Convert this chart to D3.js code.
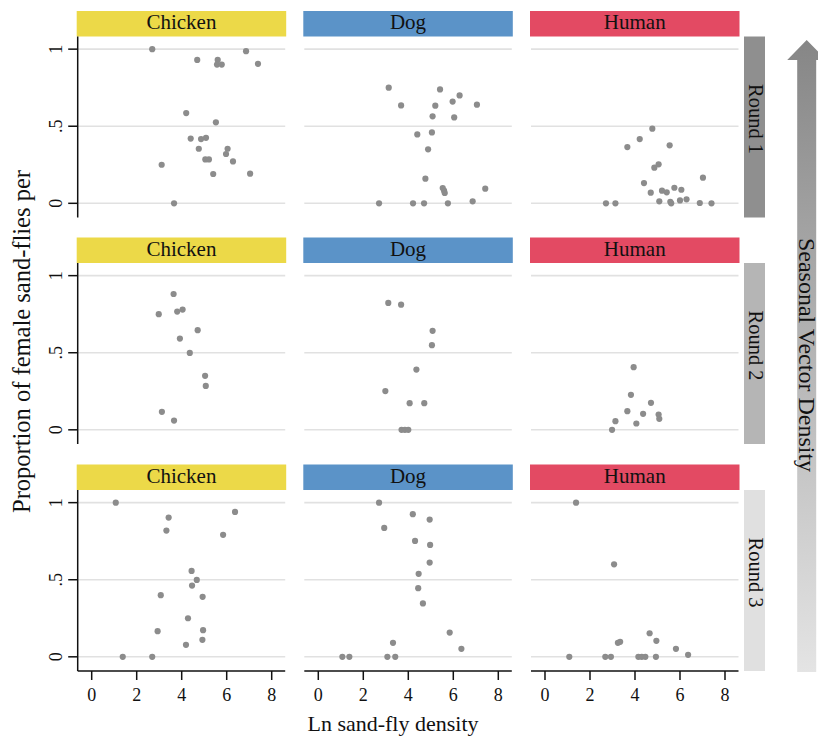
<!DOCTYPE html>
<html>
<head>
<meta charset="utf-8">
<script src="https://cdn.jsdelivr.net/npm/d3@7"></script>
<style>
  body { margin: 0; background: #fff; }
  svg { display: block; }
  text { font-family: "Liberation Serif", "Times New Roman", serif; fill: #111; }
</style>
</head>
<body>
<svg id="chart" width="818" height="740"></svg>
<script>
// Facet labels and axis ticks
const hosts = ["Chicken", "Dog", "Human"];
const rounds = ["Round 1", "Round 2", "Round 3"];
const xTicks = [0, 2, 4, 6, 8];
const yTicks = [0, 0.5, 1];
const yTickLabels = ["0", ".5", "1"];
const hostColors = ["#ecd948", "#5b93c8", "#e34a63"];
const roundColors = ["#8f8f8f", "#b5b5b5", "#e0e0e0"];

// Observations per panel: [ln sand-fly density, proportion of females]
const round1Chicken = [
  [2.69, 1.0], [4.69, 0.93], [5.6, 0.93], [5.57, 0.90], [5.78, 0.90], [6.86, 0.987], [7.39, 0.905],
  [4.2, 0.585], [5.52, 0.525], [4.4, 0.42], [4.86, 0.417], [5.08, 0.425], [4.76, 0.354], [6.04, 0.354],
  [5.97, 0.32], [5.05, 0.285], [5.21, 0.285], [6.28, 0.272], [3.11, 0.25], [5.4, 0.19], [7.04, 0.192], [3.66, 0]
];
const round1Dog = [
  [3.13, 0.75], [5.41, 0.739], [6.28, 0.70], [5.97, 0.66], [3.68, 0.635], [5.2, 0.633], [7.05, 0.64],
  [5.08, 0.564], [6.04, 0.557], [4.4, 0.447], [5.05, 0.46], [4.88, 0.35], [4.76, 0.16], [5.53, 0.099],
  [5.59, 0.082], [5.62, 0.067], [7.42, 0.095], [6.86, 0.013], [2.7, 0], [4.21, 0], [4.7, 0], [5.76, 0]
];
const round1Human = [
  [4.77, 0.484], [4.21, 0.417], [3.66, 0.365], [5.54, 0.376], [4.86, 0.231], [5.05, 0.253], [7.02, 0.166],
  [4.4, 0.131], [4.7, 0.069], [5.2, 0.082], [5.41, 0.071], [5.75, 0.101], [6.06, 0.088], [2.71, 0], [3.13, 0],
  [5.08, 0.013], [5.57, 0.01], [5.61, 0], [6.0, 0.019], [6.29, 0.026], [6.88, 0.002], [7.4, 0]
];
const round2Chicken = [
  [3.64, 0.881], [2.98, 0.75], [3.8, 0.767], [4.04, 0.78], [4.71, 0.646], [3.92, 0.592], [4.36, 0.499],
  [5.04, 0.35], [5.07, 0.285], [3.12, 0.117], [3.66, 0.06]
];
const round2Dog = [
  [3.11, 0.823], [3.68, 0.812], [5.08, 0.642], [5.05, 0.549], [4.36, 0.391], [2.98, 0.251], [4.06, 0.173],
  [4.71, 0.173], [3.7, 0], [3.85, 0], [4.0, 0]
];
const round2Human = [
  [3.94, 0.406], [3.82, 0.227], [4.71, 0.175], [3.66, 0.121], [4.36, 0.104], [5.05, 0.099], [5.08, 0.071],
  [3.13, 0.056], [4.06, 0.041], [2.98, 0]
];
const round3Chicken = [
  [1.07, 1.0], [6.37, 0.94], [3.42, 0.903], [3.32, 0.819], [5.84, 0.791], [4.44, 0.557], [4.67, 0.499],
  [4.46, 0.462], [3.07, 0.4], [4.93, 0.389], [4.28, 0.25], [2.93, 0.166], [4.95, 0.173], [4.92, 0.11],
  [4.19, 0.078], [1.38, 0], [2.69, 0]
];
const round3Dog = [
  [2.7, 1.0], [4.2, 0.925], [4.95, 0.89], [2.93, 0.836], [4.3, 0.752], [4.97, 0.726], [4.95, 0.611],
  [4.46, 0.538], [4.44, 0.445], [4.65, 0.346], [5.84, 0.157], [3.32, 0.091], [6.36, 0.052],
  [1.07, 0], [1.38, 0], [3.07, 0], [3.42, 0]
];
const round3Human = [
  [1.38, 1.0], [3.07, 0.6], [4.65, 0.153], [4.95, 0.104], [3.24, 0.091], [3.34, 0.097], [5.82, 0.052],
  [6.36, 0.013], [1.08, 0], [2.68, 0], [2.93, 0], [4.15, 0], [4.3, 0], [4.46, 0], [4.93, 0]
];

const panelData = [
  [round1Chicken, round1Dog, round1Human],
  [round2Chicken, round2Dog, round2Human],
  [round3Chicken, round3Dog, round3Human]
];

// Layout
const colLeft = [77.7, 304.3, 531];
const panelW = 207.5;
const rowTop = [36.5, 263, 490];
const panelH = 181;
const stripH = 25.5;

const svg = d3.select("#chart");

const defs = svg.append("defs");
const grad = defs.append("linearGradient")
  .attr("id", "arrowGrad").attr("x1", 0).attr("y1", 0).attr("x2", 0).attr("y2", 1);
grad.append("stop").attr("offset", "0%").attr("stop-color", "#868686");
grad.append("stop").attr("offset", "100%").attr("stop-color", "#e4e4e4");

rounds.forEach((roundName, r) => {
  const top = rowTop[r];
  hosts.forEach((host, c) => {
    const left = colLeft[c];
    const x = d3.scaleLinear().domain([-0.622, 8.6]).range([left, left + panelW]);
    const y = d3.scaleLinear().domain([-0.092, 1.082]).range([top + panelH, top]);
    const g = svg.append("g");

    // host strip
    g.append("rect")
      .attr("x", left - 1).attr("y", top - stripH)
      .attr("width", panelW + 2).attr("height", stripH)
      .attr("fill", hostColors[c]);
    g.append("text")
      .attr("x", left + panelW / 2).attr("y", top - stripH + 18)
      .attr("text-anchor", "middle").attr("font-size", 21)
      .text(host);

    // horizontal grid lines
    g.selectAll("line.grid").data(yTicks).join("line")
      .attr("class", "grid")
      .attr("x1", left).attr("x2", left + panelW)
      .attr("y1", d => y(d)).attr("y2", d => y(d))
      .attr("stroke", "#e1e1e1").attr("stroke-width", 1.6);

    // points
    g.selectAll("circle").data(panelData[r][c]).join("circle")
      .attr("cx", d => x(d[0])).attr("cy", d => y(d[1]))
      .attr("r", 3.1).attr("fill", "#8c8c8c");

    // y axis on first column
    if (c === 0) {
      const ya = g.append("g");
      ya.append("line")
        .attr("x1", left).attr("x2", left)
        .attr("y1", top).attr("y2", top + panelH)
        .attr("stroke", "#111").attr("stroke-width", 1.5);
      ya.selectAll("line.tick").data(yTicks).join("line")
        .attr("class", "tick")
        .attr("x1", left - 9.5).attr("x2", left)
        .attr("y1", d => y(d)).attr("y2", d => y(d))
        .attr("stroke", "#111").attr("stroke-width", 1.5);
      ya.selectAll("text").data(yTicks).join("text")
        .attr("transform", d => `translate(62,${y(d)}) rotate(-90)`)
        .attr("text-anchor", "middle").attr("font-size", 18)
        .text((d, i) => yTickLabels[i]);
    }

    // x axis on last row
    if (r === rounds.length - 1) {
      const xa = g.append("g");
      xa.append("line")
        .attr("x1", left).attr("x2", left + panelW)
        .attr("y1", top + panelH).attr("y2", top + panelH)
        .attr("stroke", "#111").attr("stroke-width", 1.5);
      xa.selectAll("line.tick").data(xTicks).join("line")
        .attr("class", "tick")
        .attr("x1", d => x(d)).attr("x2", d => x(d))
        .attr("y1", top + panelH).attr("y2", top + panelH + 9)
        .attr("stroke", "#111").attr("stroke-width", 1.5);
      xa.selectAll("text").data(xTicks).join("text")
        .attr("x", d => x(d)).attr("y", top + panelH + 29.5)
        .attr("text-anchor", "middle").attr("font-size", 18)
        .text(d => d);
    }
  });

  // round strip on the right
  svg.append("rect")
    .attr("x", 744).attr("y", top)
    .attr("width", 21).attr("height", panelH)
    .attr("fill", roundColors[r]);
  svg.append("text")
    .attr("transform", `translate(748.5,${top + panelH / 2 - 8}) rotate(90)`)
    .attr("text-anchor", "middle").attr("font-size", 20.5)
    .text(roundName);
});

// Seasonal arrow
const ax = 806.7, shaftHalf = 9.5, headHalf = 19.5;
const arrowTop = 40, headBase = 60, arrowBottom = 672;
svg.append("path")
  .attr("d", d3.line()([
    [ax, arrowTop], [ax + headHalf, headBase], [ax + shaftHalf, headBase],
    [ax + shaftHalf, arrowBottom], [ax - shaftHalf, arrowBottom], [ax - shaftHalf, headBase],
    [ax - headHalf, headBase]
  ]) + "Z")
  .attr("fill", "url(#arrowGrad)");
svg.append("text")
  .attr("transform", "translate(798.5,355) rotate(90)")
  .attr("text-anchor", "middle").attr("font-size", 24)
  .text("Seasonal Vector Density");

// Axis titles
svg.append("text")
  .attr("transform", "translate(30,341.5) rotate(-90)")
  .attr("text-anchor", "middle").attr("font-size", 24.5)
  .text("Proportion of female sand-flies per");
svg.append("text")
  .attr("x", 393).attr("y", 731)
  .attr("text-anchor", "middle").attr("font-size", 22)
  .text("Ln sand-fly density");
</script>
</body>
</html>
